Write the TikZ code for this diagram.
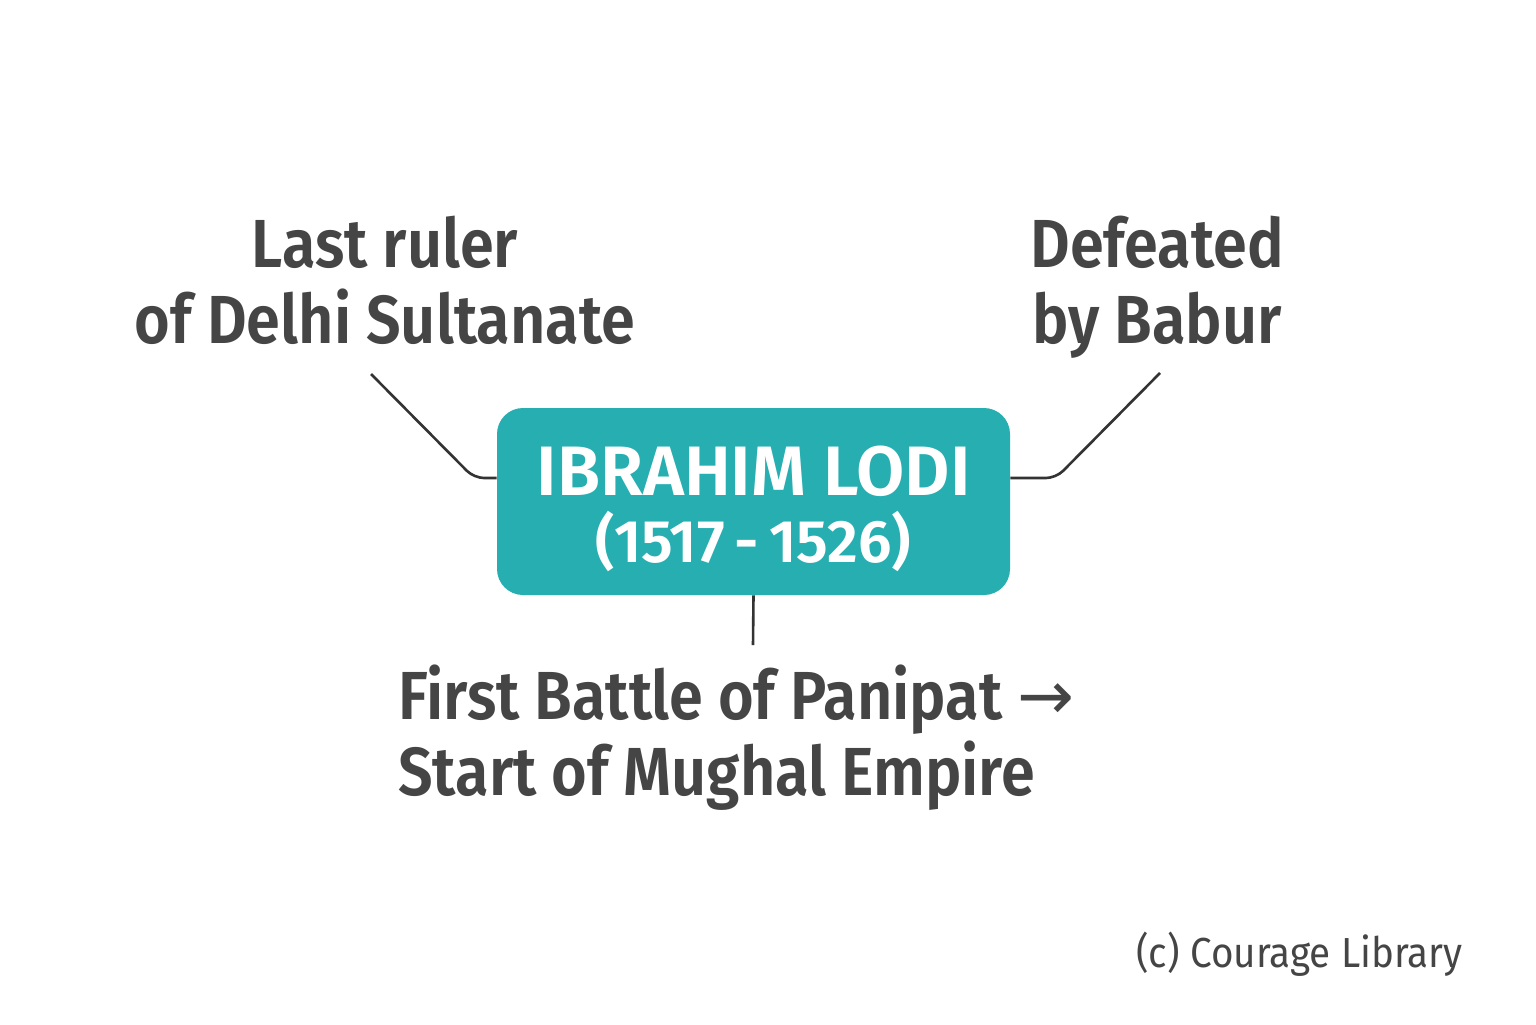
\documentclass[tikz,border=0pt]{standalone}
\usepackage{fontspec}
\setmainfont{Fira Sans}[BoldFont={Fira Sans SemiBold},FakeStretch=0.9]
\newfontfamily\lodifont{Fira Sans}[BoldFont={Fira Sans SemiBold}]
\newfontfamily\arrowfont{DejaVu Sans}
\definecolor{loditeal}{HTML}{26AEB1}
\definecolor{labelgray}{HTML}{454545}
\definecolor{linegray}{HTML}{333333}
\tikzset{
    factlabel/.style={text=labelgray,font=\bfseries\fontsize{34}{38}\selectfont,align=center,inner sep=0pt},
    lodibox/.style={fill=loditeal,rounded corners=13pt,minimum width=256.5pt,minimum height=93.5pt,text=white,align=center,inner sep=0pt},
    connector/.style={linegray,line width=1.3pt,rounded corners=5pt}
}
\begin{document}
\begin{tikzpicture}[x=0.5pt,y=-0.5pt]
        \useasboundingbox[fill=white] (0,0) rectangle (1536,1024);
        \node[lodibox,font=\lodifont\bfseries] (lodi) at (753.5,501.5) {\fontsize{35}{35}\selectfont\rule{0pt}{32pt}IBRAHIM LODI\\[6pt]\fontsize{30}{35}\selectfont (1517\,-\,1526)};
        \node[factlabel,anchor=base] (lastruler) at (385,343) {Last ruler\\of Delhi Sultanate};
        \node[factlabel,anchor=base] (defeated) at (1157,343) {Defeated\\by Babur};
        \node[factlabel,anchor=base west,align=left] (panipat) at (398,795) {First Battle of Panipat {\arrowfont\mdseries →}\\Start of Mughal Empire};
        \node[text=labelgray,font=\addfontfeature{FakeStretch=0.92}\fontsize{21}{24}\selectfont,anchor=base east,inner sep=0pt] (credit) at (1463,967) {(c) Courage Library};
        % connectors
        \coordinate (lefttop) at (371,374);
        \coordinate (righttop) at (1160,373);
        \coordinate (bottomend) at (753,645);
        \draw[connector] (lefttop) -- (474,478) -- (lodi.west |- 0,478);
        \draw[connector] (lodi.east |- 0,478) -- (1056,478) -- (righttop);
        \draw[connector] (lodi.south) -- (bottomend);
    \end{tikzpicture}
\end{document}
